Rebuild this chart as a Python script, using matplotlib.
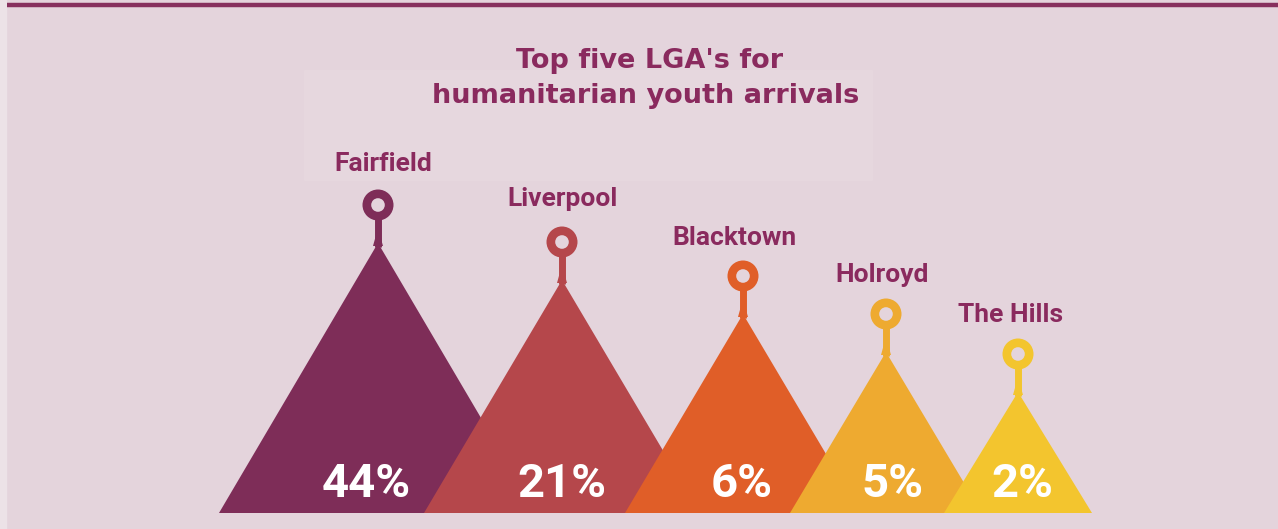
import matplotlib.pyplot as plt
from matplotlib.patches import Polygon, Circle, Rectangle

# Datos del gráfico
lgas = ['Fairfield', 'Liverpool', 'Blacktown', 'Holroyd', 'The Hills']
shares = [44, 21, 6, 5, 2]
colours = ['#7e2d58', '#b5474b', '#e05e28', '#eeaa30', '#f3c52e']

# Layout (pixel coordinates)
cx = [378, 562, 743, 886, 1018]
apex_y = [243, 280, 314, 352, 392]
half_w = [159, 138, 118, 96, 74]
base_y = 513
label_dx = [5, 1, -9, -4, -7]
label_dy = [0, -2, 3, 2, 2]
pct_dx = [-12, 0, -1, 6, 4]

bg = '#e4d4dc'
ink = '#8a2a5e'

fig = plt.figure(figsize=(12.78, 5.29), dpi=100)
fig.patch.set_facecolor(bg)
ax = fig.add_axes([0, 0, 1, 1])
ax.set_xlim(0, 1278)
ax.set_ylim(529, 0)
ax.axis('off')

# franjas y cajas de fondo
ax.add_patch(Rectangle((0, 0), 6, 529, color='#ece2e7', zorder=0))
ax.add_patch(Rectangle((304, 70), 568, 110, color='#e6d7de', zorder=0))
ax.plot([7, 1278], [4.5, 4.5], color='#87305e', lw=3.2, solid_capstyle='butt')

# titulo
ax.text(650, 61, "Top five LGA's for", ha='center', va='center', fontsize=19.5,
        fontweight='bold', color=ink, family='DejaVu Sans')
ax.text(646, 96, 'humanitarian youth arrivals', ha='center', va='center',
        fontsize=19.5, fontweight='bold', color=ink, family='DejaVu Sans')

for i in range(len(lgas)):
    x, ay, hw, c = cx[i], apex_y[i], half_w[i], colours[i]
    z = 2 + i
    tri = Polygon([(x - hw, base_y), (x, ay), (x + hw, base_y)], closed=True,
                  facecolor=c, edgecolor='none', zorder=z)
    ax.add_patch(tri)
    # pin: tallo con un pequeño ensanche y anillo
    ring_y = ay - 38
    ax.plot([x, x], [ring_y, ay + 4], color=c, lw=5, zorder=z, solid_capstyle='butt')
    ax.add_patch(Polygon([(x - 2.5, ay - 6), (x + 2.5, ay - 6), (x + 5, ay + 3), (x - 5, ay + 3)],
                         closed=True, facecolor=c, edgecolor='none', zorder=z))
    ax.add_patch(Circle((x, ring_y), 15.5, facecolor=c, edgecolor='none', zorder=z))
    ax.add_patch(Circle((x, ring_y), 6.8, facecolor=bg, edgecolor='none', zorder=z))
    ax.text(x + label_dx[i], ring_y - 41 + label_dy[i], lgas[i], ha='center', va='center',
            fontsize=19, fontweight='bold', color=ink, family='Roboto', zorder=z)
    ax.text(x + pct_dx[i], 484, f'{shares[i]}%', ha='center', va='center',
            fontsize=34, fontweight='bold', color='white', family='Roboto', zorder=10)

fig.savefig('out.png', dpi=100, facecolor=bg)
